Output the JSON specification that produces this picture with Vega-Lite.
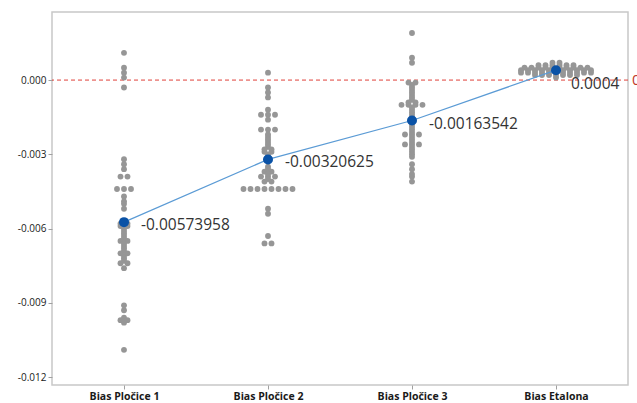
{
  "$schema": "https://vega.github.io/schema/vega-lite/v6.json",
  "width": 576,
  "height": 373,
  "autosize": {"type": "none"},
  "padding": {"left": 52, "top": 12, "right": 9, "bottom": 18},
  "background": "white",
  "config": {"view": {"stroke": "#c8c8c8", "strokeWidth": 1.5}, "font": "Open Sans"},
  "datasets": {
    "obs": [
      {"g": "Bias Pločice 1", "v": 0.0011}, {"g": "Bias Pločice 1", "v": 0.0005}, {"g": "Bias Pločice 1", "v": 0.0003}, {"g": "Bias Pločice 1", "v": 0.0001}, {"g": "Bias Pločice 1", "v": -0.0003},
      {"g": "Bias Pločice 1", "v": -0.0032}, {"g": "Bias Pločice 1", "v": -0.0034}, {"g": "Bias Pločice 1", "v": -0.0036}, {"g": "Bias Pločice 1", "v": -0.0039}, {"g": "Bias Pločice 1", "v": -0.0039}, {"g": "Bias Pločice 1", "v": -0.0044}, {"g": "Bias Pločice 1", "v": -0.0044}, {"g": "Bias Pločice 1", "v": -0.0044}, {"g": "Bias Pločice 1", "v": -0.0047}, {"g": "Bias Pločice 1", "v": -0.0049}, {"g": "Bias Pločice 1", "v": -0.005}, {"g": "Bias Pločice 1", "v": -0.0052},
      {"g": "Bias Pločice 1", "v": -0.0057}, {"g": "Bias Pločice 1", "v": -0.0058}, {"g": "Bias Pločice 1", "v": -0.0058}, {"g": "Bias Pločice 1", "v": -0.0059}, {"g": "Bias Pločice 1", "v": -0.0059}, {"g": "Bias Pločice 1", "v": -0.006}, {"g": "Bias Pločice 1", "v": -0.0061}, {"g": "Bias Pločice 1", "v": -0.0062}, {"g": "Bias Pločice 1", "v": -0.0063}, {"g": "Bias Pločice 1", "v": -0.0064}, {"g": "Bias Pločice 1", "v": -0.0065}, {"g": "Bias Pločice 1", "v": -0.0065}, {"g": "Bias Pločice 1", "v": -0.0066}, {"g": "Bias Pločice 1", "v": -0.0067}, {"g": "Bias Pločice 1", "v": -0.0068}, {"g": "Bias Pločice 1", "v": -0.0069}, {"g": "Bias Pločice 1", "v": -0.007}, {"g": "Bias Pločice 1", "v": -0.007}, {"g": "Bias Pločice 1", "v": -0.0071}, {"g": "Bias Pločice 1", "v": -0.0072}, {"g": "Bias Pločice 1", "v": -0.0073}, {"g": "Bias Pločice 1", "v": -0.0074}, {"g": "Bias Pločice 1", "v": -0.0074}, {"g": "Bias Pločice 1", "v": -0.0076},
      {"g": "Bias Pločice 1", "v": -0.0091}, {"g": "Bias Pločice 1", "v": -0.0093}, {"g": "Bias Pločice 1", "v": -0.0096}, {"g": "Bias Pločice 1", "v": -0.0097}, {"g": "Bias Pločice 1", "v": -0.0097}, {"g": "Bias Pločice 1", "v": -0.0098}, {"g": "Bias Pločice 1", "v": -0.0109},
      {"g": "Bias Pločice 2", "v": 0.0003}, {"g": "Bias Pločice 2", "v": -0.0003}, {"g": "Bias Pločice 2", "v": -0.0005}, {"g": "Bias Pločice 2", "v": -0.0007}, {"g": "Bias Pločice 2", "v": -0.0012}, {"g": "Bias Pločice 2", "v": -0.0014}, {"g": "Bias Pločice 2", "v": -0.0014}, {"g": "Bias Pločice 2", "v": -0.0014}, {"g": "Bias Pločice 2", "v": -0.0016},
      {"g": "Bias Pločice 2", "v": -0.002}, {"g": "Bias Pločice 2", "v": -0.002}, {"g": "Bias Pločice 2", "v": -0.002}, {"g": "Bias Pločice 2", "v": -0.0022}, {"g": "Bias Pločice 2", "v": -0.0023}, {"g": "Bias Pločice 2", "v": -0.0024}, {"g": "Bias Pločice 2", "v": -0.0025}, {"g": "Bias Pločice 2", "v": -0.0026}, {"g": "Bias Pločice 2", "v": -0.0027}, {"g": "Bias Pločice 2", "v": -0.0028}, {"g": "Bias Pločice 2", "v": -0.0028}, {"g": "Bias Pločice 2", "v": -0.0029}, {"g": "Bias Pločice 2", "v": -0.0029}, {"g": "Bias Pločice 2", "v": -0.003}, {"g": "Bias Pločice 2", "v": -0.0031},
      {"g": "Bias Pločice 2", "v": -0.0035}, {"g": "Bias Pločice 2", "v": -0.0036}, {"g": "Bias Pločice 2", "v": -0.0037}, {"g": "Bias Pločice 2", "v": -0.0037}, {"g": "Bias Pločice 2", "v": -0.0038}, {"g": "Bias Pločice 2", "v": -0.0039}, {"g": "Bias Pločice 2", "v": -0.0039}, {"g": "Bias Pločice 2", "v": -0.0039}, {"g": "Bias Pločice 2", "v": -0.004}, {"g": "Bias Pločice 2", "v": -0.0041}, {"g": "Bias Pločice 2", "v": -0.0041},
      {"g": "Bias Pločice 2", "v": -0.0044}, {"g": "Bias Pločice 2", "v": -0.0044}, {"g": "Bias Pločice 2", "v": -0.0044}, {"g": "Bias Pločice 2", "v": -0.0044}, {"g": "Bias Pločice 2", "v": -0.0044}, {"g": "Bias Pločice 2", "v": -0.0044}, {"g": "Bias Pločice 2", "v": -0.0044}, {"g": "Bias Pločice 2", "v": -0.0044},
      {"g": "Bias Pločice 2", "v": -0.0052}, {"g": "Bias Pločice 2", "v": -0.0054}, {"g": "Bias Pločice 2", "v": -0.0063}, {"g": "Bias Pločice 2", "v": -0.0066}, {"g": "Bias Pločice 2", "v": -0.0066},
      {"g": "Bias Pločice 3", "v": 0.0019}, {"g": "Bias Pločice 3", "v": 0.0009}, {"g": "Bias Pločice 3", "v": 0.0007},
      {"g": "Bias Pločice 3", "v": -0.0001}, {"g": "Bias Pločice 3", "v": -0.0001}, {"g": "Bias Pločice 3", "v": -0.0002}, {"g": "Bias Pločice 3", "v": -0.0003}, {"g": "Bias Pločice 3", "v": -0.0004}, {"g": "Bias Pločice 3", "v": -0.0005}, {"g": "Bias Pločice 3", "v": -0.0006}, {"g": "Bias Pločice 3", "v": -0.0007}, {"g": "Bias Pločice 3", "v": -0.0008}, {"g": "Bias Pločice 3", "v": -0.0009}, {"g": "Bias Pločice 3", "v": -0.0009}, {"g": "Bias Pločice 3", "v": -0.001}, {"g": "Bias Pločice 3", "v": -0.001}, {"g": "Bias Pločice 3", "v": -0.001}, {"g": "Bias Pločice 3", "v": -0.001}, {"g": "Bias Pločice 3", "v": -0.0011}, {"g": "Bias Pločice 3", "v": -0.0012}, {"g": "Bias Pločice 3", "v": -0.0013}, {"g": "Bias Pločice 3", "v": -0.0014}, {"g": "Bias Pločice 3", "v": -0.0015},
      {"g": "Bias Pločice 3", "v": -0.0016}, {"g": "Bias Pločice 3", "v": -0.0017}, {"g": "Bias Pločice 3", "v": -0.0018}, {"g": "Bias Pločice 3", "v": -0.0019}, {"g": "Bias Pločice 3", "v": -0.002}, {"g": "Bias Pločice 3", "v": -0.0021}, {"g": "Bias Pločice 3", "v": -0.0022}, {"g": "Bias Pločice 3", "v": -0.0022}, {"g": "Bias Pločice 3", "v": -0.0022}, {"g": "Bias Pločice 3", "v": -0.0023}, {"g": "Bias Pločice 3", "v": -0.0024}, {"g": "Bias Pločice 3", "v": -0.0025}, {"g": "Bias Pločice 3", "v": -0.0026}, {"g": "Bias Pločice 3", "v": -0.0026}, {"g": "Bias Pločice 3", "v": -0.0026}, {"g": "Bias Pločice 3", "v": -0.0027}, {"g": "Bias Pločice 3", "v": -0.0028}, {"g": "Bias Pločice 3", "v": -0.0029}, {"g": "Bias Pločice 3", "v": -0.003}, {"g": "Bias Pločice 3", "v": -0.0031},
      {"g": "Bias Pločice 3", "v": -0.0034}, {"g": "Bias Pločice 3", "v": -0.0036}, {"g": "Bias Pločice 3", "v": -0.0038}, {"g": "Bias Pločice 3", "v": -0.0039}, {"g": "Bias Pločice 3", "v": -0.0041},
      {"g": "Bias Etalona", "v": 0.0001},
      {"g": "Bias Etalona", "v": 0.0002}, {"g": "Bias Etalona", "v": 0.0002}, {"g": "Bias Etalona", "v": 0.0002}, {"g": "Bias Etalona", "v": 0.0002}, {"g": "Bias Etalona", "v": 0.0002}, {"g": "Bias Etalona", "v": 0.0002}, {"g": "Bias Etalona", "v": 0.0002},
      {"g": "Bias Etalona", "v": 0.0003}, {"g": "Bias Etalona", "v": 0.0003}, {"g": "Bias Etalona", "v": 0.0003}, {"g": "Bias Etalona", "v": 0.0003}, {"g": "Bias Etalona", "v": 0.0003}, {"g": "Bias Etalona", "v": 0.0003}, {"g": "Bias Etalona", "v": 0.0003}, {"g": "Bias Etalona", "v": 0.0003}, {"g": "Bias Etalona", "v": 0.0003}, {"g": "Bias Etalona", "v": 0.0003}, {"g": "Bias Etalona", "v": 0.0003},
      {"g": "Bias Etalona", "v": 0.0004}, {"g": "Bias Etalona", "v": 0.0004}, {"g": "Bias Etalona", "v": 0.0004}, {"g": "Bias Etalona", "v": 0.0004}, {"g": "Bias Etalona", "v": 0.0004}, {"g": "Bias Etalona", "v": 0.0004}, {"g": "Bias Etalona", "v": 0.0004}, {"g": "Bias Etalona", "v": 0.0004}, {"g": "Bias Etalona", "v": 0.0004}, {"g": "Bias Etalona", "v": 0.0004}, {"g": "Bias Etalona", "v": 0.0004},
      {"g": "Bias Etalona", "v": 0.0005}, {"g": "Bias Etalona", "v": 0.0005}, {"g": "Bias Etalona", "v": 0.0005}, {"g": "Bias Etalona", "v": 0.0005}, {"g": "Bias Etalona", "v": 0.0005}, {"g": "Bias Etalona", "v": 0.0005}, {"g": "Bias Etalona", "v": 0.0005}, {"g": "Bias Etalona", "v": 0.0005}, {"g": "Bias Etalona", "v": 0.0005}, {"g": "Bias Etalona", "v": 0.0005},
      {"g": "Bias Etalona", "v": 0.0006}, {"g": "Bias Etalona", "v": 0.0006}, {"g": "Bias Etalona", "v": 0.0006}, {"g": "Bias Etalona", "v": 0.0006}, {"g": "Bias Etalona", "v": 0.0006}, {"g": "Bias Etalona", "v": 0.0006},
      {"g": "Bias Etalona", "v": 0.0007}, {"g": "Bias Etalona", "v": 0.0007}
    ],
    "ref": [{"v": 0}]
  },
  "layer": [
    {
      "data": {"name": "ref"},
      "mark": {"type": "rule", "color": "#e0403a", "strokeDash": [4, 3], "strokeWidth": 1},
      "encoding": {"y": {"field": "v", "type": "quantitative"}}
    },
    {
      "data": {"name": "obs"},
      "transform": [
        {"calculate": "indexof(['Bias Pločice 1','Bias Pločice 2','Bias Pločice 3','Bias Etalona'], datum.g)", "as": "gi"},
        {"calculate": "round(datum.v * 10000)", "as": "k"},
        {"window": [{"op": "row_number", "as": "r"}], "groupby": ["g", "k"]},
        {"window": [{"op": "count", "as": "n"}], "groupby": ["g", "k"], "frame": [null, null]},
        {"calculate": "datum.gi + (datum.r - (datum.n + 1) / 2) * 0.0486", "as": "xp"}
      ],
      "mark": {"type": "circle", "color": "#969696", "opacity": 1, "size": 34},
      "encoding": {
        "x": {
          "field": "xp", "type": "quantitative",
          "scale": {"domain": [-0.5, 3.5], "nice": false, "zero": false},
          "axis": {
            "values": [0, 1, 2, 3],
            "labelExpr": "['Bias Pločice 1','Bias Pločice 2','Bias Pločice 3','Bias Etalona'][round(datum.value)]",
            "title": null, "grid": false, "domain": false,
            "tickColor": "#a0a0a0", "tickSize": 4,
            "labelFont": "Open Sans", "labelFontWeight": "bold", "labelFontSize": 10.5,
            "labelColor": "#1a1a1a", "labelPadding": 2
          }
        },
        "y": {
          "field": "v", "type": "quantitative",
          "scale": {"domain": [-0.01232, 0.00275], "nice": false, "zero": false},
          "axis": {
            "values": [0, -0.003, -0.006, -0.009, -0.012],
            "labelExpr": "replace(format(datum.value, '.3f'), '\u2212', '-')",
            "title": null, "grid": false, "domain": false,
            "tickColor": "#a0a0a0", "tickSize": 4,
            "labelFont": "Open Sans", "labelFontSize": 10,
            "labelColor": "#1a1a1a", "labelPadding": 2
          }
        }
      }
    },
    {
      "data": {"name": "obs"},
      "transform": [
        {"aggregate": [{"op": "mean", "field": "v", "as": "v"}], "groupby": ["g"]},
        {"calculate": "indexof(['Bias Pločice 1','Bias Pločice 2','Bias Pločice 3','Bias Etalona'], datum.g)", "as": "xp"}
      ],
      "mark": {"type": "line", "color": "#5b9bd5", "strokeWidth": 1.2},
      "encoding": {
        "x": {"field": "xp", "type": "quantitative"},
        "y": {"field": "v", "type": "quantitative"}
      }
    },
    {
      "data": {"name": "obs"},
      "transform": [
        {"aggregate": [{"op": "mean", "field": "v", "as": "v"}], "groupby": ["g"]},
        {"calculate": "indexof(['Bias Pločice 1','Bias Pločice 2','Bias Pločice 3','Bias Etalona'], datum.g)", "as": "xp"}
      ],
      "mark": {"type": "circle", "color": "#0a52a6", "opacity": 1, "size": 100},
      "encoding": {
        "x": {"field": "xp", "type": "quantitative"},
        "y": {"field": "v", "type": "quantitative"}
      }
    },
    {
      "data": {"name": "obs"},
      "transform": [
        {"aggregate": [{"op": "mean", "field": "v", "as": "v"}], "groupby": ["g"]},
        {"calculate": "indexof(['Bias Pločice 1','Bias Pločice 2','Bias Pločice 3','Bias Etalona'], datum.g)", "as": "xp"},
        {"calculate": "replace(format(datum.v, '.8~f'), '\u2212', '-')", "as": "lab"},
        {"filter": "datum.xp < 3"}
      ],
      "mark": {"type": "text", "align": "left", "baseline": "middle", "dx": 17, "dy": 3, "fontSize": 15.5, "font": "Open Sans", "color": "#333333"},
      "encoding": {
        "x": {"field": "xp", "type": "quantitative"},
        "y": {"field": "v", "type": "quantitative"},
        "text": {"field": "lab"}
      }
    },
    {
      "data": {"name": "obs"},
      "transform": [
        {"aggregate": [{"op": "mean", "field": "v", "as": "v"}], "groupby": ["g"]},
        {"calculate": "indexof(['Bias Pločice 1','Bias Pločice 2','Bias Pločice 3','Bias Etalona'], datum.g)", "as": "xp"},
        {"calculate": "replace(format(datum.v, '.8~f'), '\u2212', '-')", "as": "lab"},
        {"filter": "datum.xp == 3"}
      ],
      "mark": {"type": "text", "align": "left", "baseline": "middle", "dx": 15, "dy": 14, "fontSize": 15.5, "font": "Open Sans", "color": "#333333"},
      "encoding": {
        "x": {"field": "xp", "type": "quantitative"},
        "y": {"field": "v", "type": "quantitative"},
        "text": {"field": "lab"}
      }
    },
    {
      "data": {"name": "ref"},
      "mark": {"type": "text", "align": "left", "baseline": "middle", "dx": 4, "fontSize": 15, "font": "Open Sans", "color": "#c0392b", "text": "0"},
      "encoding": {
        "x": {"datum": 3.5, "type": "quantitative"},
        "y": {"field": "v", "type": "quantitative"}
      }
    }
  ]
}
